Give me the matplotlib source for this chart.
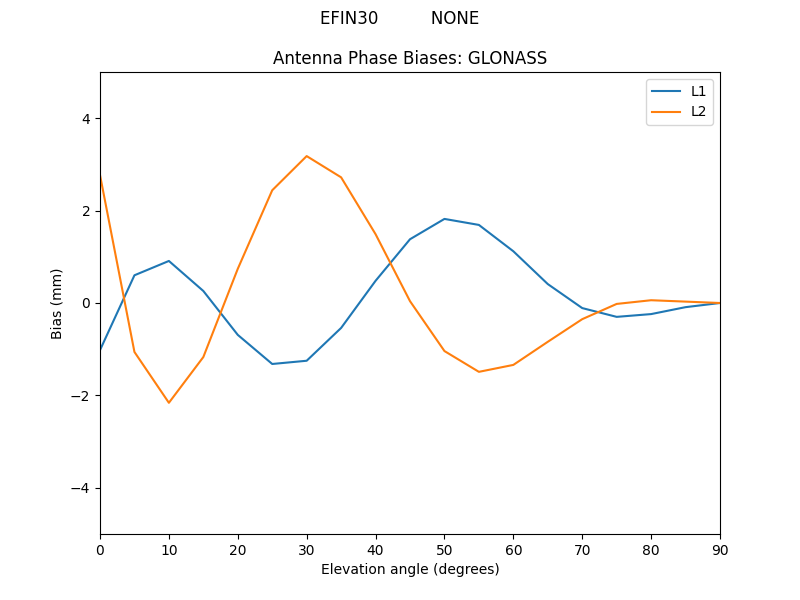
import matplotlib
matplotlib.use("Agg")
import matplotlib.pyplot as plt

elevation = list(range(0, 95, 5))
l1_bias = [-1.02, 0.60, 0.91, 0.26, -0.69, -1.32, -1.25, -0.54, 0.48, 1.38,
           1.82, 1.69, 1.12, 0.41, -0.11, -0.30, -0.24, -0.09, 0.0]
l2_bias = [2.77, -1.06, -2.16, -1.17, 0.74, 2.44, 3.18, 2.72, 1.49, 0.04,
           -1.04, -1.49, -1.34, -0.84, -0.35, -0.02, 0.06, 0.03, 0.0]

fig, ax = plt.subplots(figsize=(8, 6), dpi=100)
fig.suptitle("EFIN30          NONE", y=0.984)
ax.plot(elevation, l1_bias, label="L1")
ax.plot(elevation, l2_bias, label="L2")
ax.set_xlim(0, 90)
ax.set_ylim(-5, 5)
ax.set_xlabel("Elevation angle (degrees)")
ax.set_ylabel("Bias (mm)")
ax.set_title("Antenna Phase Biases: GLONASS")
ax.legend(loc="upper right")
fig.savefig("out.png")
